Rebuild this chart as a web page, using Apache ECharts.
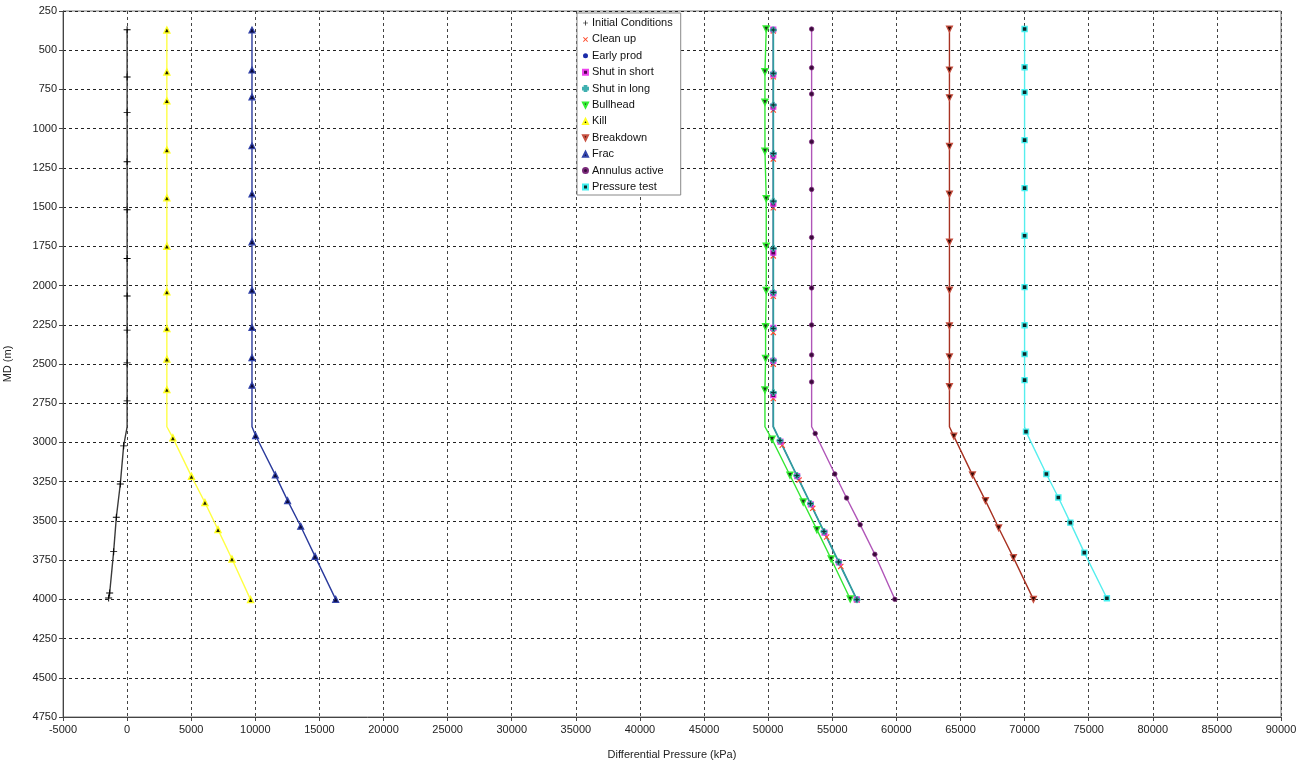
<!DOCTYPE html>
<html>
<head>
<meta charset="utf-8">
<script src="https://cdn.jsdelivr.net/npm/echarts@6/dist/echarts.min.js"></script>
<style>
  html, body { margin: 0; padding: 0; background: #fff; }
  #chart { width: 1309px; height: 760px; }
</style>
</head>
<body>
<div id="chart"></div>
<script>
// Differential pressure profiles along measured depth (MD, m) for each load case.
// Each case: marker depths (md), pressures at those depths (dp),
// and the depth/pressure of the unmarked kink where the profile starts to slope.

const mdTicks = [250, 4750, 250];          // min, max, interval (m)
const dpTicks = [-5000, 90000, 5000];      // min, max, interval (kPa)

const initialMd = [369, 671, 896, 1211, 1517, 1827, 2066, 2284, 2493, 2735, 3022, 3265, 3477, 3696, 3960, 3992];
const initialDp = [0, 0, 0, 0, 0, 0, 0, 0, 0, 0, -270, -530, -840, -1050, -1360, -1440];
const initialKink = [2900, 0];

const cleanMd = [377, 669, 881, 1194, 1504, 1811, 2068, 2300, 2501, 2720, 3018, 3240, 3420, 3603, 3790, 4005];
const earlyMd = [365, 660, 873, 1186, 1492, 1802, 2055, 2280, 2490, 2700, 3000, 3225, 3400, 3580, 3770, 4000];
const shortMd = [368, 655, 860, 1170, 1478, 1790, 2050, 2270, 2480, 2699, 2995, 3215, 3395, 3575, 3765, 4000];
const longMd = [371, 647, 849, 1158, 1462, 1763, 2044, 2274, 2476, 2682, 2988, 3211, 3390, 3568, 3762, 4002];
const wellVertical = 50400;          // pressure of the shut-in / production group above the kink
const wellBottom = [4002, 56920];    // bottom point of that group
const wellKink = [2900, 50400];

const bullMd = [365, 637, 832, 1143, 1447, 1749, 2031, 2263, 2465, 2665, 2980, 3209, 3380, 3556, 3743, 3998];
const bullDp = [49850, 49750, 49750, 49750, 49850, 49850, 49850, 49800, 49800, 49750, 50300, 51700, 52735, 53800, 54915, 56400];
const bullKink = [2900, 49750];

const killMd = [371, 639, 822, 1135, 1441, 1749, 2040, 2274, 2469, 2663, 2971, 3216, 3383, 3556, 3743, 4002];
const killDp = [3100, 3100, 3100, 3100, 3100, 3100, 3100, 3100, 3100, 3100, 3570, 5020, 6070, 7090, 8180, 9630];
const killKink = [2900, 3100];

const breakMd = [365, 626, 803, 1113, 1417, 1723, 2029, 2257, 2455, 2644, 2960, 3207, 3371, 3545, 3734, 4000];
const breakDp = [64140, 64140, 64140, 64140, 64140, 64140, 64140, 64140, 64140, 64140, 64480, 65935, 66950, 67980, 69130, 70690];
const breakKink = [2900, 64140];

const fracMd = [371, 626, 797, 1109, 1415, 1721, 2029, 2267, 2459, 2635, 2956, 3207, 3371, 3534, 3726, 4000];
const fracDp = [9740, 9740, 9740, 9740, 9740, 9740, 9740, 9740, 9740, 9740, 10020, 11560, 12520, 13540, 14660, 16270];
const fracKink = [2900, 9740];

const annulusMd = [365, 612, 779, 1084, 1387, 1693, 2015, 2251, 2442, 2614, 2943, 3201, 3354, 3524, 3713, 4000];
const annulusDp = [53390, 53390, 53390, 53390, 53390, 53390, 53390, 53390, 53390, 53390, 53670, 55200, 56115, 57175, 58320, 59880];
const annulusKink = [2900, 53390];

const testMd = [365, 609, 768, 1073, 1379, 1683, 2010, 2253, 2436, 2603, 2931, 3201, 3351, 3511, 3702, 3993];
const testDp = [70000, 70000, 70000, 70000, 70000, 70000, 70000, 70000, 70000, 70000, 70110, 71700, 72635, 73570, 74660, 76420];
const testKink = [2900, 70000];

// the shut-in / production group follows one straight profile below the kink
function wellDp(md) {
  if (md <= wellKink[0]) return wellVertical;
  return wellKink[1] + (md - wellKink[0]) * (wellBottom[1] - wellKink[1]) / (wellBottom[0] - wellKink[0]);
}
const cleanDp = cleanMd.map(wellDp);
const earlyDp = earlyMd.map(wellDp);
const shortDp = shortMd.map(wellDp);
const longDp = longMd.map(wellDp);

// marker shapes
const SYM_PLUS = 'path://M0,2.6H6V3.4H0Z M2.6,0H3.4V6H2.6Z';
const SYM_X = 'path://M0,0.8L0.8,0L3,2.2L5.2,0L6,0.8L3.8,3L6,5.2L5.2,6L3,3.8L0.8,6L0,5.2L2.2,3Z';
const SYM_BOLDPLUS = 'path://M2,0H4V2H6V4H4V6H2V4H0V2H2Z';
const SYM_DOWN = 'path://M0,0L6,0L3,6Z';
const SYM_UP = 'path://M3,0L6,6L0,6Z';

function buildData(md, dp, kink) {
  const pts = md.map((d, i) => ({ value: [dp[i], d] }));
  if (kink) {
    let idx = pts.findIndex(p => p.value[1] > kink[0]);
    if (idx < 0) idx = pts.length;
    pts.splice(idx, 0, { value: [kink[1], kink[0]], symbol: 'none' });
  }
  return pts;
}

function makeSeries(name, md, dp, kink, lineColor, symbol, size, fill, edge, edgeWidth, lineWidth) {
  return {
    name: name,
    type: 'line',
    data: buildData(md, dp, kink),
    symbol: symbol,
    symbolSize: size,
    showAllSymbol: true,
    animation: false,
    lineStyle: { color: lineColor, width: lineWidth || 1.4 },
    itemStyle: { color: fill, borderColor: edge || fill, borderWidth: edge ? edgeWidth : 0 },
    emphasis: { disabled: true },
    z: 3
  };
}

const series = [
  makeSeries('Initial Conditions', initialMd, initialDp, initialKink, '#3a3a3a', SYM_PLUS, 7, '#000', null, 0),
  makeSeries('Clean up', cleanMd, cleanDp, wellKink, '#ff5a3c', SYM_X, 6, '#ff4a2a', null, 0, 0.8),
  makeSeries('Early prod', earlyMd, earlyDp, wellKink, '#3344cc', 'circle', 4, '#1a2aa8', null, 0, 0.8),
  makeSeries('Shut in short', shortMd, shortDp, wellKink, '#dd33dd', 'rect', 5, '#550055', '#ee44ee', 1.2, 0.8),
  makeSeries('Shut in long', longMd, longDp, wellKink, '#2f9ea0', SYM_BOLDPLUS, 6, '#0d3535', '#3fb0b0', 1, 1.8),
  makeSeries('Bullhead', bullMd, bullDp, bullKink, '#33e633', SYM_DOWN, 6, '#1a3a1a', '#33ee33', 1.4),
  makeSeries('Kill', killMd, killDp, killKink, '#ffff44', SYM_UP, 6, '#222200', '#ffff22', 1.4),
  makeSeries('Breakdown', breakMd, breakDp, breakKink, '#a83222', SYM_DOWN, 6, '#3a0a05', '#c85040', 1.2),
  makeSeries('Frac', fracMd, fracDp, fracKink, '#2a3a9c', SYM_UP, 6, '#0a0a3a', '#3344aa', 1.2),
  makeSeries('Annulus active', annulusMd, annulusDp, annulusKink, '#b055b8', 'circle', 4.5, '#3a0a3a', '#7a2a7a', 0.8),
  makeSeries('Pressure test', testMd, testDp, testKink, '#55eeee', 'rect', 5, '#0a2a2a', '#44f0f0', 1.4)
];

const FONT = 'Liberation Sans, Arial, sans-serif';
const plainNumber = v => String(v);

const chart = echarts.init(document.getElementById('chart'), null, { renderer: 'canvas' });
chart.setOption({
  backgroundColor: '#ffffff',
  animation: false,
  textStyle: { fontFamily: FONT },
  grid: {
    left: 63, top: 11, right: 28, bottom: 43,
    containLabel: false,
    outerBoundsMode: 'none',
    show: true, borderColor: '#777', borderWidth: 1, backgroundColor: '#fff'
  },
  legend: {
    orient: 'vertical',
    left: 577, top: 13,
    backgroundColor: '#fff',
    borderColor: '#888',
    borderWidth: 1,
    padding: [4, 8, 2, 5],
    itemGap: 4.4,
    itemWidth: 5, itemHeight: 5,
    textStyle: { fontFamily: FONT, fontSize: 11, color: '#111', padding: [0, 0, 0, -1], lineHeight: 12 },
    selectedMode: false,
    data: series.map(s => ({ name: s.name, icon: s.symbol }))
  },
  xAxis: {
    type: 'value',
    min: dpTicks[0], max: dpTicks[1], interval: dpTicks[2],
    name: 'Differential Pressure (kPa)',
    nameLocation: 'middle', nameGap: 32,
    nameTextStyle: { fontFamily: FONT, fontSize: 11, color: '#222' },
    axisLine: { show: true, onZero: false, lineStyle: { color: '#444', width: 1 } },
    axisTick: { show: true, length: 4, lineStyle: { color: '#444' } },
    axisLabel: { fontFamily: FONT, fontSize: 11, color: '#222', margin: 7, formatter: plainNumber },
    splitLine: { show: true, lineStyle: { color: '#444', type: [3, 3], width: 1 } }
  },
  yAxis: {
    type: 'value',
    inverse: true,
    min: mdTicks[0], max: mdTicks[1], interval: mdTicks[2],
    name: 'MD (m)',
    nameLocation: 'middle', nameGap: 50, nameRotate: 90,
    nameTextStyle: { fontFamily: FONT, fontSize: 11, color: '#222' },
    axisLine: { show: true, onZero: false, lineStyle: { color: '#444', width: 1 } },
    axisTick: { show: true, length: 4, lineStyle: { color: '#444' } },
    axisLabel: { fontFamily: FONT, fontSize: 11, color: '#222', margin: 6, formatter: plainNumber },
    splitLine: { show: true, lineStyle: { color: '#222', type: [3, 3], width: 1 } }
  },
  series: series
});
</script>
</body>
</html>
